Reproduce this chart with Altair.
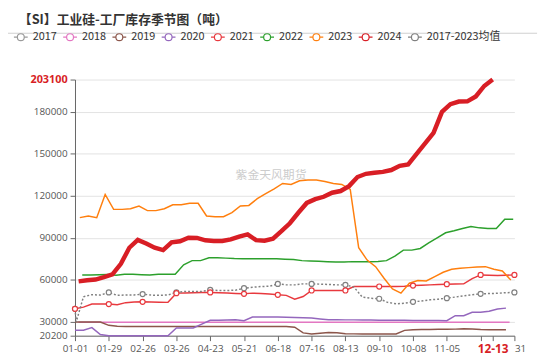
import altair as alt
import pandas as pd

SERIES = ["2017", "2018", "2019", "2020", "2021", "2022", "2023", "2024", "2017-2023均值"]
COLORS = ["#9a9a9a", "#e377c2", "#8c564b", "#9467bd", "#e8393e", "#2ca02c", "#ff7f0e", "#d81e25", "#808080"]

START = {
    "2018": "2021-01-04", "2019": "2021-01-01", "2020": "2021-01-01", "2021": "2021-01-01",
    "2022": "2021-01-07", "2023": "2021-01-05", "2024": "2021-01-04", "2017-2023均值": "2021-01-01",
}

V2018 = [29800, 29800, 29800, 29800, 29800, 29800, 29800, 29800, 29800, 29800, 29800, 29800, 29800,
         29800, 29800, 29800, 29800, 29800, 29800, 29800, 29800, 29800, 29800, 29800, 29800, 29800,
         29800, 29800, 29800, 29800, 29800, 29800, 29800, 29800, 29800, 29800, 29800, 29800, 29800,
         29800, 29800, 29800, 29800, 29800, 29800, 29800, 29800, 29800, 29800, 29800, 29800, 29800]
V2019 = [30000, 30000, 30000, 30000, 27600, 26900, 26800, 26800, 26800, 26800, 26800, 26800, 26800,
         26800, 26800, 26800, 26800, 26800, 26800, 26800, 26800, 26800, 26800, 26800, 26800, 26800,
         26300, 22200, 21400, 22000, 22500, 22300, 21600, 21500, 21400, 21400, 21400, 21400, 21400,
         24000, 24500, 24600, 24700, 24800, 24800, 24900, 25100, 25000, 24600, 24500, 24500, 24500]
V2020 = [24100, 24100, 26000, 21000, 20200, 20200, 20200, 20200, 20200, 20200, 20200, 20200, 25700,
         25700, 25700, 28500, 31200, 31200, 31400, 31600, 30900, 33500, 33500, 33500, 33500, 33400,
         33200, 33000, 32800, 32200, 31600, 31600, 31500, 31500, 31400, 31400, 31300, 31300, 31200,
         31200, 31100, 31100, 31000, 31000, 30900, 34500, 34500, 36900, 36900, 37600, 39200, 39900]
V2021 = [39400, 40600, 42800, 42800, 42800, 42300, 43800, 44200, 44400, 44300, 44100, 44000, 50600,
         50700, 50800, 51000, 51100, 50900, 50700, 50400, 50100, 50600, 50400, 50000, 49400, 49000,
         46300, 48200, 52500, 52500, 52500, 52500, 52500, 55300, 55300, 55300, 55300, 55300, 55300,
         55500, 56000, 56200, 56500, 56800, 57000, 57100, 57200, 61000, 63600, 63400, 63200, 63400, 63600]
V2022 = [63600, 63600, 63800, 63900, 63300, 64000, 64100, 63800, 63600, 64100, 64100, 64100, 70800,
         73800, 73800, 75900, 75800, 75600, 75300, 75200, 75200, 75200, 75200, 75100, 74800, 74600,
         73800, 73500, 73300, 73000, 72800, 72900, 73100, 73000, 73000, 73200, 73800, 77000, 81300,
         81300, 82500, 86500, 90100, 93700, 95100, 96700, 98200, 97200, 96800, 96700, 103300, 103300]
V2023 = [104500, 105700, 104500, 121100, 110400, 110400, 110900, 112800, 109500, 109500, 110900,
         113700, 113700, 114700, 114700, 105700, 105200, 105200, 108100, 112800, 113200, 118000,
         121600, 125100, 128900, 128200, 130800, 131300, 131300, 130300, 128900, 128200, 124600,
         83000, 74200, 69500, 61200, 53600, 50600, 57700, 59600, 59300, 62400, 65500, 67600, 68300,
         68800, 69200, 69500, 67600, 66400, 60000]
V2024 = [59000, 59800, 60300, 62000, 64000, 71500, 83000, 88600, 86000, 83000, 81300, 86800, 87600,
         90200, 90000, 88300, 87800, 87800, 89000, 91000, 92500, 88400, 88000, 89500, 94800, 100500,
         108000, 115000, 117700, 119400, 122300, 123500, 127000, 133500, 135800, 136500, 137200,
         138500, 141500, 142500, 150000, 157500, 165000, 180000, 185500, 187400, 187500, 191000,
         198500, 203100]
VAVG = [39400, 48000, 49500, 49200, 51100, 49000, 49300, 49300, 49900, 49200, 49000, 49300, 51100,
        51800, 51800, 51800, 52900, 52500, 52500, 52700, 54100, 54800, 55300, 55500, 57200, 56500,
        56500, 57200, 57200, 57000, 56800, 56500, 56500, 55000, 47800, 46900, 46600, 44000, 43000,
        43400, 44400, 45000, 45800, 46300, 47000, 47800, 48600, 49400, 50100, 50300, 50500, 50900, 51100]
AVG_EXTRA_DATE = "2021-01-02"
AVG_EXTRA_VALUE = 30000

VALUES = {"2018": V2018, "2019": V2019, "2020": V2020, "2021": V2021, "2022": V2022,
          "2023": V2023, "2024": V2024, "2017-2023均值": VAVG}
MARKED = ["2021", "2017-2023均值"]

X_TICKS = ["01-01", "01-29", "02-26", "03-26", "04-23", "05-21", "06-18", "07-16",
           "08-13", "09-10", "10-08", "11-05", "12-03", "12-13", "12-31"]
Y_TICKS = [20200, 30000, 60000, 90000, 120000, 150000, 180000, 203100]

rows = []
for s, vals in VALUES.items():
    dates = pd.date_range(START[s], periods=len(vals), freq="7D")
    for i, (d, v) in enumerate(zip(dates, vals)):
        rows.append({"series": s, "date": d, "value": v,
                     "marker": (s in MARKED) and (i % 4 == 0)})
rows.append({"series": "2017-2023均值", "date": pd.Timestamp(AVG_EXTRA_DATE),
             "value": AVG_EXTRA_VALUE, "marker": False})
df = pd.DataFrame(rows).sort_values(["series", "date"]).reset_index(drop=True)
df["date"] = df["date"].dt.strftime("%Y-%m-%dT%H:%M:%S")

FONT = "Noto Sans CJK SC"
NUMFONT = "Open Sans"
RED = "#d81e25"

legend_path = ("M-1,0 L-0.5,0 M0.5,0 L1,0 M0.5,0 A0.5,0.5 0 1,1 -0.5,0 "
               "A0.5,0.5 0 1,1 0.5,0")

md = "timeFormat(datum.value, '%m-%d')"
x_enc = alt.X(
    "date:T",
    title=None,
    scale=alt.Scale(domain=[alt.DateTime(year=2021, month=1, date=1),
                            alt.DateTime(year=2021, month=12, date=31)]),
    axis=alt.Axis(
        values=[alt.DateTime(year=2021, month=int(t[:2]), date=int(t[3:])) for t in X_TICKS],
        labelExpr=f"{md} == '12-03' ? '' : ({md} == '12-31' ? '31' : {md})",
        labelColor=alt.condition(f"{md} == '12-13'", alt.value(RED), alt.value("#555")),
        labelFontWeight=alt.condition(f"{md} == '12-13'", alt.value("bold"), alt.value("normal")),
        labelFontSize=alt.condition(f"{md} == '12-13'", alt.value(12), alt.value(10)),
        labelAlign=alt.condition(f"{md} == '12-31'", alt.value("left"), alt.value("center")),
        labelOverlap=False, grid=False, domainColor="#666", tickColor="#666",
        tickSize=5, labelPadding=3, labelFont=NUMFONT,
    ),
)
y_enc = alt.Y(
    "value:Q",
    title=None,
    scale=alt.Scale(domain=[20200, 203100], nice=False, zero=False),
    axis=alt.Axis(
        values=Y_TICKS, format="d",
        labelColor=alt.condition("datum.value == 203100", alt.value(RED), alt.value("#555")),
        labelFontWeight=alt.condition("datum.value == 203100", alt.value("bold"), alt.value("normal")),
        labelFontSize=alt.condition("datum.value == 203100", alt.value(11), alt.value(10)),
        labelOverlap=False, grid=True, gridColor="#e3e3e3", domainColor="#666",
        tickColor="#666", tickSize=5, labelPadding=3, labelFont=NUMFONT,
    ),
)
color_scale = alt.Scale(domain=SERIES, range=COLORS)
color_enc = alt.Color(
    "series:N",
    scale=color_scale,
    legend=alt.Legend(
        orient="none", legendX=-63, legendY=-51, direction="horizontal", title=None,
        symbolType=legend_path, symbolSize=196, symbolStrokeWidth=1.2,
        symbolFillColor="white", gridAlign="none",
        labelFontSize=11, labelColor="#333", labelFont=FONT, labelOffset=4,
        columnPadding=3, labelLimit=200,
    ),
)

base = alt.Chart(df).encode(x=x_enc, y=y_enc, color=color_enc)

thin = base.transform_filter(
    alt.FieldOneOfPredicate(field="series", oneOf=["2018", "2019", "2020", "2021", "2022", "2023"])
).mark_line(strokeWidth=1.5)
avg = base.transform_filter(alt.datum.series == "2017-2023均值").mark_line(
    strokeWidth=1.5, strokeDash=[2, 2])
marks = base.transform_filter(alt.datum.marker == True).mark_point(
    filled=False, fill="white", fillOpacity=1, size=26, strokeWidth=1.2, opacity=1
).encode(color=alt.Color("series:N", scale=color_scale, legend=None))
thick = base.transform_filter(alt.datum.series == "2024").mark_line(strokeWidth=4.5)

wm = alt.Chart(pd.DataFrame({"t": ["紫金天风期货"]})).mark_text(
    font=FONT, fontSize=12, color="#cccccc"
).encode(text="t:N", x=alt.value(199), y=alt.value(97))

sep = alt.Chart(pd.DataFrame({"a": [0]})).mark_rule(color="#cfcfcf", strokeWidth=1).encode(
    x=alt.value(-68), x2=alt.value(469), y=alt.value(-47))

chart = alt.layer(sep, wm, thin, avg, marks, thick).properties(
    width=446, height=260,
    autosize="none",
    padding={"left": 68, "top": 70, "right": 28, "bottom": 19},
    title=alt.TitleParams(
        "【SI】工业硅-工厂库存季节图（吨）", anchor="start", frame="group",
        fontSize=13, fontWeight="bold", color="#333", font=FONT, dx=-57, offset=2,
    ),
).configure_view(stroke=None)

chart.save("out.html", embed_options={"renderer": "svg", "actions": False})
